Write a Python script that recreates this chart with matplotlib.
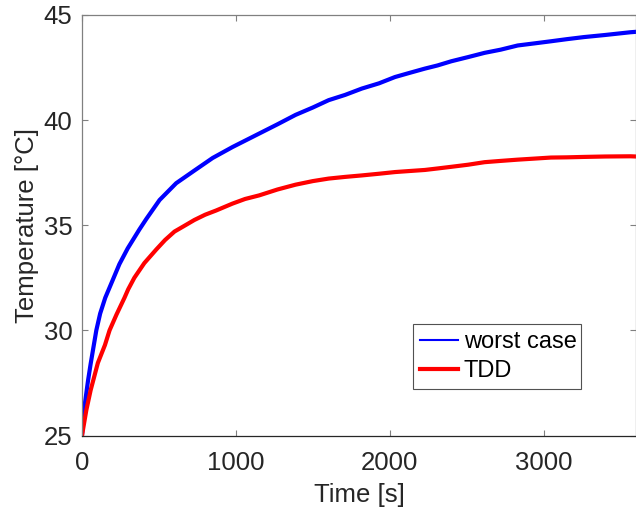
import matplotlib
matplotlib.use("Agg")
import matplotlib.pyplot as plt
from matplotlib.lines import Line2D

plt.rcParams["font.family"] = ["Liberation Sans", "DejaVu Sans"]

# values
time_worst = [0, 13, 39, 56, 93, 118, 151, 200, 243, 297, 373, 418, 504, 612, 730,
              849, 978, 1151, 1270, 1388, 1500, 1603, 1710, 1818, 1930, 2034, 2130,
              2228, 2310, 2400, 2510, 2616, 2720, 2831, 2940, 3047, 3150, 3262, 3400,
              3564, 3600]
temp_worst = [25.0, 26.2, 27.6, 28.4, 30.0, 30.8, 31.55, 32.4, 33.15, 33.9, 34.8, 35.3,
              36.2, 37.0, 37.6, 38.2, 38.72, 39.36, 39.8, 40.25, 40.6, 40.95, 41.2,
              41.5, 41.75, 42.05, 42.25, 42.45, 42.6, 42.8, 43.0, 43.2, 43.35, 43.55,
              43.65, 43.75, 43.85, 43.95, 44.05, 44.18, 44.2]

time_tdd = [0, 28, 56, 103, 149, 179, 224, 276, 300, 340, 405, 483, 540, 601, 660,
            730, 800, 871, 978, 1060, 1151, 1270, 1388, 1500, 1603, 1710, 1818, 1930,
            2034, 2130, 2228, 2310, 2400, 2510, 2616, 2720, 2831, 2940, 3047, 3150,
            3262, 3400, 3564, 3600]
temp_tdd = [25.0, 26.2, 27.15, 28.45, 29.3, 30.0, 30.75, 31.55, 31.95, 32.5, 33.2,
            33.85, 34.3, 34.7, 34.95, 35.25, 35.5, 35.7, 36.03, 36.25, 36.42, 36.7,
            36.93, 37.1, 37.22, 37.3, 37.37, 37.45, 37.53, 37.58, 37.63, 37.7, 37.78,
            37.88, 38.0, 38.06, 38.12, 38.17, 38.22, 38.23, 38.25, 38.27, 38.28, 38.27]

xticks = [0, 1000, 2000, 3000]
yticks = [25, 30, 35, 40, 45]

fig = plt.figure(figsize=(6.36, 5.17), dpi=100)
ax = fig.add_axes([82 / 636, 1 - 435.5 / 517, 554 / 636, 420.5 / 517])

ax.plot(time_worst, temp_worst, color="#0000ff", lw=3, solid_joinstyle="round")
ax.plot(time_tdd, temp_tdd, color="#ff0000", lw=3, solid_joinstyle="round")

ax.set_xlim(0, 3600)
ax.set_ylim(25, 45)
ax.set_xticks(xticks)
ax.set_yticks(yticks)

fg = "#262626"
for s in ax.spines.values():
    s.set_color("#808080")
    s.set_linewidth(0.9)
ax.spines["bottom"].set_color(fg)
ax.tick_params(direction="in", length=4, width=0.8, colors="#808080",
               top=True, right=True, labelsize=18.5, labelcolor=fg)
ax.tick_params(axis="x", pad=11)
ax.tick_params(axis="y", pad=7)

ax.set_xlabel("Time [s]", fontsize=18.5, color=fg, labelpad=6)
ax.set_ylabel("Temperature [°C]", fontsize=18.5, color=fg, labelpad=3)

handles = [Line2D([], [], color="#0000ff", lw=1.5),
           Line2D([], [], color="#ff0000", lw=3)]
leg = ax.legend(handles, ["worst case", "TDD"], loc="lower left",
                bbox_to_anchor=(331 / 554, 46.5 / 420.5, 168 / 554, 65 / 420.5),
                mode="expand", fontsize=17, frameon=True, fancybox=False,
                borderpad=0.3, handlelength=1.6, handletextpad=0.25,
                labelspacing=0.3, borderaxespad=0)
leg.get_frame().set_edgecolor(fg)
leg.get_frame().set_linewidth(0.8)
for t in leg.get_texts():
    t.set_color("black")

fig.savefig("out.png", dpi=100)
